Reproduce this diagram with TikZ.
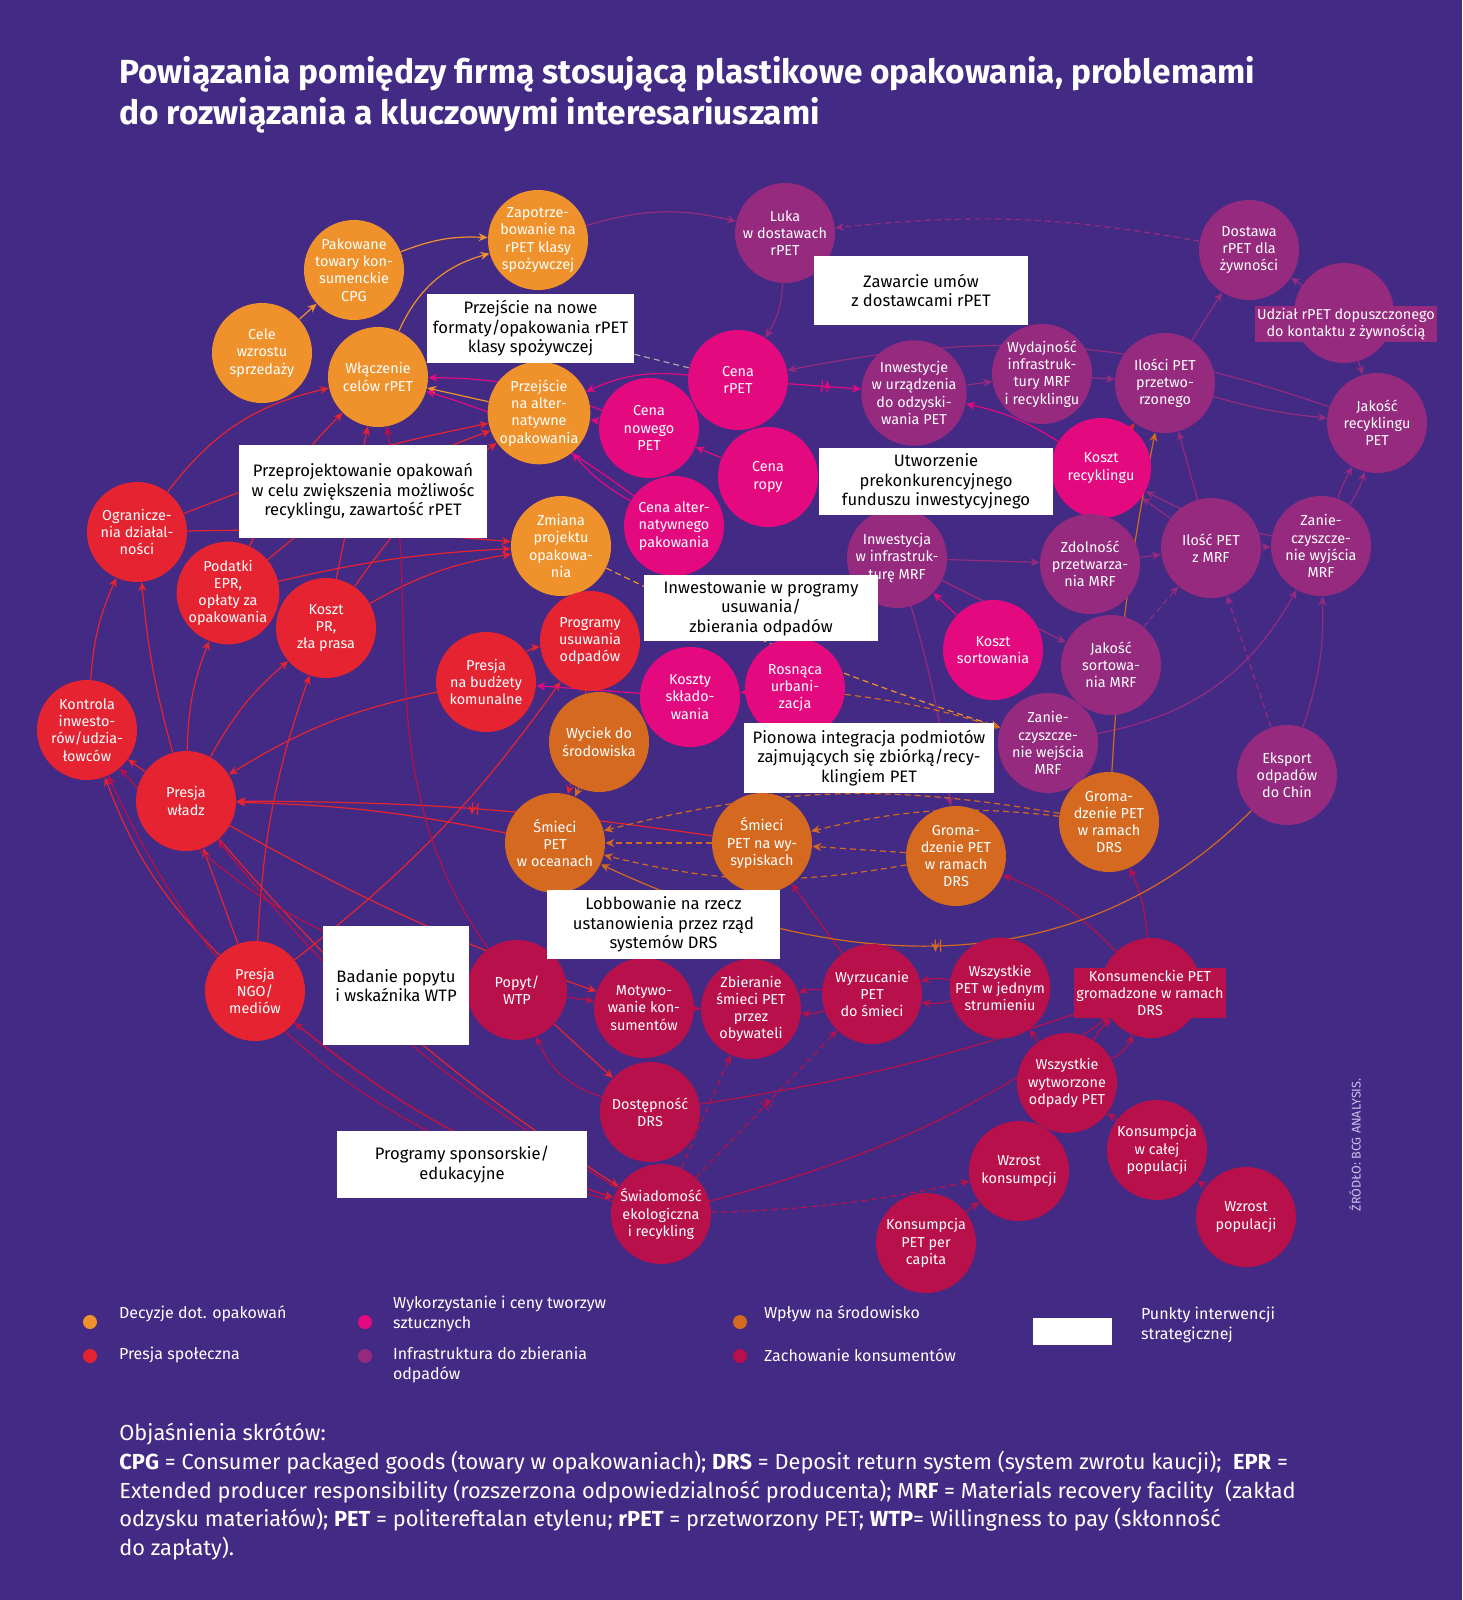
\documentclass[tikz,border=0pt]{standalone}
\usepackage{fontspec}
\setmainfont{Fira Sans}
\usetikzlibrary{arrows.meta,decorations.markings}
\definecolor{bgc}{HTML}{432A84}
\definecolor{cor}{HTML}{F0922B}
\definecolor{cred}{HTML}{E52331}
\definecolor{cpink}{HTML}{E5097F}
\definecolor{cpur}{HTML}{952A7F}
\definecolor{cdor}{HTML}{D4691F}
\definecolor{ccrim}{HTML}{B8104A}
\definecolor{csrc}{HTML}{C9C0E8}
\pgfdeclarelayer{bglayer}
\pgfdeclarelayer{edgelayer}
\pgfsetlayers{bglayer,edgelayer,main}
\begin{document}
\begin{tikzpicture}[x=0.5pt,y=-0.5pt,
  nd/.style={circle,minimum size=50pt,inner sep=0pt,text=white,align=center,font=\fontsize{7.2}{8.6}\selectfont},
  nor/.style={nd,fill=cor}, nred/.style={nd,fill=cred}, npink/.style={nd,fill=cpink},
  npur/.style={nd,fill=cpur}, ndor/.style={nd,fill=cdor}, ncrim/.style={nd,fill=ccrim},
  ibox/.style={fill=white,text=black,align=center,inner sep=0pt,font=\fontsize{8.3}{9.8}\selectfont},
  edg/.style={line width=0.6pt,-{Stealth[length=4.5pt,width=4pt]}},
  eor/.style={edg,color=cor}, ered/.style={edg,color=cred}, epink/.style={edg,color=cpink},
  epur/.style={edg,color=cpur}, edor/.style={edg,color=cdor}, ecrim/.style={edg,color=ccrim},
  dsh/.style={dash pattern=on 3pt off 2pt},
  delay/.style={postaction={decorate,decoration={markings,mark=at position 0.5 with {\draw[solid,line width=0.6pt,#1] (-1.3pt,-3pt)--(-1.3pt,3pt) (1.3pt,-3pt)--(1.3pt,3pt);}}}},
  lgt/.style={anchor=west,text=white,align=left,font=\fontsize{8}{10}\selectfont},
  foot/.style={anchor=west,inner sep=0pt,text=white,font=\fontsize{10.9}{12}\selectfont}
]
\useasboundingbox (0,0) rectangle (1462,1600);
\begin{pgfonlayer}{bglayer}
\fill[bgc] (0,0) rectangle (1462,1600);
\end{pgfonlayer}

% title
\node[anchor=west,inner sep=0pt,align=left,text=white,font=\fontsize{16.7}{20.5}\selectfont\bfseries] (title) at (119,95)
 {Powiązania pomiędzy firmą stosującą plastikowe opakowania, problemami\\do rozwiązania a kluczowymi interesariuszami};

% orange: packaging decisions
\node[nor] (cele) at (262,353) {Cele\\wzrostu\\sprzedaży};
\node[nor] (cpg) at (354,270) {Pakowane\\towary kon-\\sumenckie\\CPG};
\node[nor] (zap) at (538,240) {Zapotrze-\\bowanie na\\rPET klasy\\spożywczej};
\node[nor] (wlacz) at (378,377) {Włączenie\\celów rPET};
\node[nor] (przalt) at (539,413) {Przejście\\na alter-\\natywne\\opakowania};
\node[nor] (zmiana) at (561,546) {Zmiana\\projektu\\opakowa-\\nia};

% red: social pressure
\node[nred] (ogr) at (137,532) {Ogranicze-\\nia działal-\\ności};
\node[nred] (podatki) at (228,593) {Podatki\\EPR,\\opłaty za\\opakowania};
\node[nred] (kosztpr) at (326,628) {Koszt\\PR,\\zła prasa};
\node[nred] (kontrola) at (87,730) {Kontrola\\inwesto-\\rów/udzia-\\łowców};
\node[nred] (wladz) at (186,801) {Presja\\władz};
\node[nred] (budzety) at (486,682) {Presja\\na budżety\\komunalne};
\node[nred] (programy) at (590,641) {Programy\\usuwania\\odpadów};
\node[nred] (ngo) at (255,991) {Presja\\NGO/\\mediów};

% pink: plastics use and prices
\node[npink] (cenarpet) at (738,380) {Cena\\rPET};
\node[npink] (cenanowego) at (649,428) {Cena\\nowego\\PET};
\node[npink] (cenaropy) at (768,477) {Cena\\ropy};
\node[npink] (cenaalt) at (674,526) {Cena alter-\\natywnego\\pakowania};
\node[npink] (kosztrec) at (1101,468) {Koszt\\recyklingu};
\node[npink] (kosztsort) at (993,650) {Koszt\\sortowania};
\node[npink] (kosztskl) at (690,697) {Koszty\\składo-\\wania};
\node[npink] (urban) at (795,688) {Rosnąca\\urbani-\\zacja};

% purple: waste infrastructure
\node[npur] (luka) at (785,233) {Luka\\w dostawach\\rPET};
\node[npur] (inwurz) at (914,393) {Inwestycje\\w urządzenia\\do odzyski-\\wania PET};
\node[npur] (wydaj) at (1042,374) {Wydajność\\infrastruk-\\tury MRF\\i recyklingu};
\node[npur] (ilosci) at (1165,383) {Ilości PET\\przetwo-\\rzonego};
\node[npur] (dostawa) at (1249,250) {Dostawa\\rPET dla\\żywności};
\node[npur] (udzial) at (1344,313) {};
\node[fill=cpur,text=white,inner sep=1.2pt,align=center,font=\fontsize{7.2}{8.6}\selectfont] (udziallab) at (1346,324) {Udział rPET dopuszczonego\\do kontaktu z żywnością};
\node[npur] (jakoscrec) at (1377,423) {Jakość\\recyklingu\\PET};
\node[npur] (ilmrf) at (1211,548) {Ilość PET\\z MRF};
\node[npur] (zanwyj) at (1321,546) {Zanie-\\czyszcze-\\nie wyjścia\\MRF};
\node[npur] (zdol) at (1090,564) {Zdolność\\przetwarza-\\nia MRF};
\node[npur] (invmrf) at (897,558) {Inwestycja\\w infrastruk-\\turę MRF};
\node[npur] (jaksort) at (1111,665) {Jakość\\sortowa-\\nia MRF};
\node[npur] (zanwej) at (1048,743) {Zanie-\\czyszcze-\\nie wejścia\\MRF};
\node[npur] (eksport) at (1287,775) {Eksport\\odpadów\\do Chin};

% dark orange: environment
\node[ndor] (wyciek) at (599,742) {Wyciek do\\środowiska};
\node[ndor] (smoc) at (555,843) {Śmieci\\PET\\w oceanach};
\node[ndor] (smwys) at (762,843) {Śmieci\\PET na wy-\\sypiskach};
\node[ndor] (groml) at (956,856) {Groma-\\dzenie PET\\w ramach\\DRS};
\node[ndor] (gromr) at (1109,822) {Groma-\\dzenie PET\\w ramach\\DRS};

% crimson: consumer behaviour
\node[ncrim] (popyt) at (517,990) {Popyt/\\WTP};
\node[ncrim] (motyw) at (644,1008) {Motywo-\\wanie kon-\\sumentów};
\node[ncrim] (zbier) at (751,1009) {Zbieranie\\śmieci PET\\przez\\obywateli};
\node[ncrim] (wyrzuc) at (872,994) {Wyrzucanie\\PET\\do śmieci};
\node[ncrim] (jeden) at (1000,988) {Wszystkie\\PET w jednym\\strumieniu};
\node[ncrim] (konsdrs) at (1151,988) {};
\node[fill=ccrim,text=white,inner sep=1.2pt,align=center,font=\fontsize{7.2}{8.6}\selectfont] (konsdrslab) at (1150,993) {Konsumenckie PET\\gromadzone w ramach\\DRS};
\node[ncrim] (wszyst) at (1067,1083) {Wszystkie\\wytworzone\\odpady PET};
\node[ncrim] (dostdrs) at (650,1112) {Dostępność\\DRS};
\node[ncrim] (swiad) at (661,1214) {Świadomość\\ekologiczna\\i recykling};
\node[ncrim] (percap) at (926,1243) {Konsumpcja\\PET per\\capita};
\node[ncrim] (wzrkons) at (1019,1171) {Wzrost\\konsumpcji};
\node[ncrim] (kompop) at (1157,1150) {Konsumpcja\\w całej\\populacji};
\node[ncrim] (wzrpop) at (1246,1217) {Wzrost\\populacji};

% intervention boxes
\node[ibox,minimum width=103.5pt,minimum height=34.5pt] (bnowe) at (530.5,328.5) {Przejście na nowe\\formaty/opakowania rPET\\klasy spożywczej};
\node[ibox,minimum width=107pt,minimum height=34.5pt] (bumow) at (921,290.5) {Zawarcie umów\\z dostawcami rPET};
\node[ibox,minimum width=124pt,minimum height=46.5pt] (bprzeproj) at (363,491.5) {Przeprojektowanie opakowań\\w celu zwiększenia możliwośc\\recyklingu, zawartość rPET};
\node[ibox,minimum width=117pt,minimum height=33.5pt] (bfund) at (936,481.5) {Utworzenie\\prekonkurencyjnego\\funduszu inwestycyjnego};
\node[ibox,minimum width=117pt,minimum height=33pt] (binwest) at (761,608) {Inwestowanie w programy\\usuwania/\\zbierania odpadów};
\node[ibox,minimum width=125pt,minimum height=35pt] (bpion) at (869,758) {Pionowa integracja podmiotów\\zajmujących się zbiórką/recy-\\klingiem PET};
\node[ibox,minimum width=116.5pt,minimum height=34.5pt] (blobby) at (663.5,924.5) {Lobbowanie na rzecz\\ustanowienia przez rząd\\systemów DRS};
\node[ibox,minimum width=73pt,minimum height=59.5pt] (bbadanie) at (396,985.5) {Badanie popytu\\i wskaźnika WTP};
\node[ibox,minimum width=125pt,minimum height=33.5pt] (bsponsor) at (462,1164.5) {Programy sponsorskie/\\edukacyjne};

% connectors
\begin{pgfonlayer}{edgelayer}
% orange
\draw[eor] (cele) -- (cpg);
\draw[eor] (cpg) to[bend left=12] (zap);
\draw[eor] (wlacz) to[bend left=25] (zap);
\draw[eor] (przalt) -- (wlacz);
\draw[eor,dsh] (zmiana) to[bend left=-4] (zanwej);
% red
\draw[ered] (wladz) -- (kontrola);
\draw[ered] (wladz) to[bend left=5] (ogr);
\draw[ered] (kontrola) to[bend left=10] (ogr);
\draw[ered] (wladz) to[bend left=10] (podatki);
\draw[ered] (wladz) to[bend left=10] (kosztpr);
\draw[ered] (ogr) to[bend left=20] (wlacz);
\draw[ered] (ogr) to[bend left=5] (przalt);
\draw[ered] (ogr) to[bend left=3] (zmiana);
\draw[ered] (podatki) to[bend left=10] (wlacz);
\draw[ered] (podatki) to[bend left=10] (przalt);
\draw[ered] (podatki) to[bend left=5] (zmiana);
\draw[ered] (kosztpr) -- (wlacz);
\draw[ered] (kosztpr) to[bend left=10] (przalt);
\draw[ered] (kosztpr) to[bend left=10] (zmiana);
\draw[ered] (budzety) to[bend right=10] (wladz);
\draw[ered] (budzety) to[bend left=15] (programy);
\draw[ered] (smoc) to[bend right=5] (wladz);
\draw[ered,delay=cred] (smwys) to[bend right=4] (wladz);
\draw[ered] (ngo) -- (wladz);
\draw[ered] (ngo) to[bend left=12] (kontrola);
\draw[ered] (ngo) to[bend left=8] (kosztpr);
\draw[ered] (ngo) to[bend right=8] (programy);
\draw[ered] (wladz) to[bend right=5] (motyw);
\draw[ered] (wladz) to[bend right=8] (swiad);
\draw[ered] (ngo) to[bend right=10] (swiad);
\draw[ered,dsh] (programy) to[bend left=5] (smoc);
\draw[ered] (popyt) -- (dostdrs);
% crimson
\draw[ecrim] (dostdrs) to[bend left=25] (popyt);
\draw[ecrim] (popyt) -- (motyw);
\draw[ecrim] (popyt) to[out=125,in=-80] (wlacz);
\draw[ecrim] (popyt) to[bend left=18] (kontrola);
\draw[ecrim] (swiad) to[bend left=10] (ngo);
\draw[ecrim] (swiad) to[bend left=25] (kontrola);
\draw[ecrim] (swiad) to[bend left=10] (wladz);
\draw[ecrim,dsh] (swiad) -- (zbier);
\draw[ecrim,dsh,delay=ccrim] (swiad) -- (wyrzuc);
\draw[ecrim,dsh] (swiad) to[bend right=5] (wzrkons);
\draw[ecrim] (swiad) to[bend right=10] (konsdrs);
\draw[ecrim] (dostdrs) to[bend right=5] (konsdrs);
\draw[ecrim] (motyw) -- (zbier);
\draw[ecrim] (wyrzuc) to[bend right=12] (zbier);
\draw[ecrim] (wyrzuc) to[bend left=12] (zbier);
\draw[ecrim] (jeden) to[bend right=12] (wyrzuc);
\draw[ecrim] (jeden) to[bend left=12] (wyrzuc);
\draw[ecrim] (wszyst) -- (jeden);
\draw[ecrim] (wszyst) to[bend left=10] (konsdrs);
\draw[ecrim] (wszyst) to[bend right=20] (konsdrs);
\draw[ecrim] (kompop) -- (wszyst);
\draw[ecrim] (wzrpop) -- (kompop);
\draw[ecrim] (percap) -- (wzrkons);
\draw[ecrim] (wzrkons) to[bend left=10] (wszyst);
\draw[ecrim] (konsdrs) to[bend right=10] (gromr);
\draw[ecrim] (konsdrs) to[bend right=12] (groml);
\draw[ecrim] (wyrzuc) -- (smwys);
% pink
\draw[epink] (cenarpet) to[bend right=15] (przalt);
\draw[epink,delay=cpink] (cenarpet) -- (inwurz);
\draw[epink] (cenanowego) -- (przalt);
\draw[epink] (cenaropy) -- (cenanowego);
\draw[epink] (cenaalt) to[bend left=10] (przalt);
\draw[epink] (cenanowego) to[bend right=10] (wlacz);
\draw[epink] (cenaalt) to[bend right=10] (wlacz);
\draw[ered] (kosztrec) -- (ilosci);
\draw[epink] (kosztrec) to[bend right=10] (inwurz);
\draw[epink] (kosztsort) -- (invmrf);
\draw[epink] (kosztskl) -- (budzety);
\draw[epink] (urban) -- (kosztskl);
% purple
\draw[epur] (luka) to[bend left=15] (cenarpet);
\draw[epur,dsh] (dostawa) to[bend right=8] (luka);
\draw[epur] (zap) to[bend left=15] (luka);
\draw[epur] (jakoscrec) to[bend right=15] (cenarpet);
\draw[epur] (inwurz) -- (wydaj);
\draw[epur] (wydaj) -- (ilosci);
\draw[epur] (ilosci) -- (dostawa);
\draw[epur] (udzial) -- (dostawa);
\draw[epur] (udzial) -- (jakoscrec);
\draw[epur] (ilosci) to[bend right=5] (jakoscrec);
\draw[epur] (ilmrf) -- (ilosci);
\draw[epur] (ilmrf) -- (kosztrec);
\draw[epur] (zanwyj) to[bend left=5] (jakoscrec);
\draw[epur] (zanwyj) to[bend right=10] (jakoscrec);
\draw[epur] (zanwyj) to[bend left=8] (kosztrec);
\draw[epur] (invmrf) -- (zdol);
\draw[epur] (invmrf) -- (jaksort);
\draw[epur] (invmrf) to[bend left=5] (groml);
\draw[epur] (zdol) -- (ilmrf);
\draw[epur,dsh] (jaksort) -- (ilmrf);
\draw[epur,dsh] (ilmrf) -- (zanwyj);
\draw[epur,dsh] (eksport) -- (ilmrf);
\draw[epur] (eksport) to[bend right=10] (zanwyj);
\draw[epur] (zanwej) to[bend right=25] (zanwyj);
% dark orange
\draw[edor] (wyciek) -- (smoc);
\draw[edor,dsh] (smwys) -- (smoc);
\draw[edor,dsh] (groml) -- (smwys);
\draw[edor,dsh] (groml) to[bend left=12] (smoc);
\draw[edor,dsh] (gromr) to[bend right=10] (smwys);
\draw[edor,dsh] (gromr) to[bend right=12] (smoc);
\draw[edor,dsh] (urban) -- (smwys);
\draw[edor,dsh] (urban) to[bend left=5] (zanwej);
\draw[edor] (gromr) to[bend left=4] (ilosci);
\draw[edor,delay=cdor] (eksport) to[out=225,in=-25] (smoc);
% grey dashed
\draw[gray!70,line width=0.6pt,dsh] (bnowe) -- (cenarpet);
\end{pgfonlayer}

% legend
\node[circle,fill=cor,minimum size=7pt,inner sep=0pt] (lg1) at (90,1322) {};
\node[lgt] (lt1) at (112,1314) {Decyzje dot. opakowań};
\node[circle,fill=cred,minimum size=7pt,inner sep=0pt] (lg2) at (90,1356) {};
\node[lgt] (lt2) at (112,1355) {Presja społeczna};
\node[circle,fill=cpink,minimum size=7pt,inner sep=0pt] (lg3) at (365,1322) {};
\node[lgt] (lt3) at (386,1314) {Wykorzystanie i ceny tworzyw\\sztucznych};
\node[circle,fill=cpur,minimum size=7pt,inner sep=0pt] (lg4) at (365,1356) {};
\node[lgt] (lt4) at (386,1365) {Infrastruktura do zbierania\\odpadów};
\node[circle,fill=cdor,minimum size=7pt,inner sep=0pt] (lg5) at (740,1322) {};
\node[lgt] (lt5) at (757,1314) {Wpływ na środowisko};
\node[circle,fill=ccrim,minimum size=7pt,inner sep=0pt] (lg6) at (740,1356) {};
\node[lgt] (lt6) at (757,1355) {Zachowanie konsumentów};
\node[fill=white,minimum width=39.5pt,minimum height=13.5pt,inner sep=0pt] (lg7) at (1072.5,1331.5) {};
\node[lgt] (lt7) at (1134,1325) {Punkty interwencji\\strategicznej};

% source
\node[rotate=90,text=csrc,font=\fontsize{6.3}{7}\selectfont] (src) at (1355,1145) {ŹRÓDŁO: BCG ANALYSIS.};

% footnote
\node[foot] (f1) at (119,1434) {Objaśnienia skrótów:};
\node[foot] (f2) at (119,1463) {\textbf{CPG} = Consumer packaged goods (towary w opakowaniach); \textbf{DRS} = Deposit return system (system zwrotu kaucji);~ \textbf{EPR} =};
\node[foot] (f3) at (119,1492) {Extended producer responsibility (rozszerzona odpowiedzialność producenta); M\textbf{RF} = Materials recovery facility~ (zakład};
\node[foot] (f4) at (119,1520) {odzysku materiałów); \textbf{PET} = politereftalan etylenu; \textbf{rPET} = przetworzony PET; \textbf{WTP}= Willingness to pay (skłonność};
\node[foot] (f5) at (119,1549) {do zapłaty).};
\end{tikzpicture}
\end{document}
